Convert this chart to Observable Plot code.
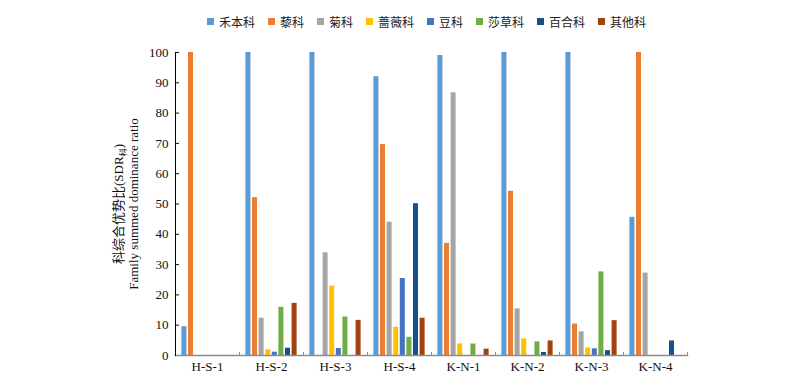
<!DOCTYPE html>
<html>
<head>
<meta charset="utf-8">
<script src="https://cdn.jsdelivr.net/npm/d3@7"></script>
<script src="https://cdn.jsdelivr.net/npm/@observablehq/plot@0.6"></script>
<style>
  body { margin: 0; background: #fff; }
  #legend { height: 34px; box-sizing: border-box; padding-top: 8px; padding-left: 207px; display: flex; align-items: center;
    font-family: "Noto Sans CJK SC", sans-serif; font-size: 12px; color: #222; }
  .item { display: flex; align-items: center; margin-right: 13px; }
  .sw { width: 7px; height: 7px; margin-right: 5px; }
</style>
</head>
<body>
<div id="legend"></div>
<div id="chart"></div>
<script>
const sites = ["H-S-1", "H-S-2", "H-S-3", "H-S-4", "K-N-1", "K-N-2", "K-N-3", "K-N-4"];
const families = ["禾本科", "藜科", "菊科", "蔷薇科", "豆科", "莎草科", "百合科", "其他科"];
const colors = ["#5B9BD5", "#ED7D31", "#A5A5A5", "#FFC000", "#4472C4", "#70AD47", "#17508C", "#A3410F"];
const yTicks = [0, 10, 20, 30, 40, 50, 60, 70, 80, 90, 100];

const poaceae     = [9.5, 100, 100, 92, 99, 100, 100, 45.6];
const chenopod    = [100, 52.1, 0, 69.6, 37, 54.2, 10.4, 100];
const asteraceae  = [0, 12.3, 33.9, 44, 86.7, 15.4, 7.8, 27.2];
const rosaceae    = [0, 1.9, 22.9, 9.3, 3.8, 5.5, 2.5, 0];
const fabaceae    = [0, 1.1, 2.3, 25.4, 0, 0, 2.2, 0];
const cyperaceae  = [0, 15.9, 12.7, 6.0, 3.8, 4.5, 27.6, 0];
const liliaceae   = [0, 2.4, 0, 50.1, 0, 1.0, 1.6, 4.8];
const others      = [0, 17.2, 11.6, 12.3, 2.1, 4.8, 11.5, 0];
const series = [poaceae, chenopod, asteraceae, rosaceae, fabaceae, cyperaceae, liliaceae, others];

const yLabel1 = "科综合优势比(SDR科)";
const yLabel2 = "Family summed dominance ratio";

const data = sites.flatMap((s, i) => families.map((f, j) => ({site: s, family: f, value: series[j][i]})))
  .filter(d => d.value > 0);

// legend
const legend = d3.select("#legend");
families.forEach((f, j) => {
  const it = legend.append("div").attr("class", "item");
  it.append("div").attr("class", "sw").style("background", colors[j]);
  it.append("span").text(f);
});

const chart = Plot.plot({
  width: 800,
  height: 352,
  marginTop: 18,
  marginBottom: 31,
  marginLeft: 175,
  marginRight: 113,
  style: {fontFamily: "'Liberation Serif', 'Noto Sans CJK SC', serif", fontSize: "13px", color: "#111"},
  fx: {domain: sites, paddingInner: 0, paddingOuter: 0, round: false, label: null},
  x: {domain: families, axis: null, paddingInner: 0.24, paddingOuter: 0.97, round: false},
  y: {domain: [0, 100]},
  color: {domain: families, range: colors},
  marks: [
    Plot.axisY(yTicks, {tickSize: -4, tickPadding: 11, label: null, fontSize: 13}),
    Plot.axisFx({anchor: "bottom", tickSize: 0, tickPadding: 6, label: null, fontSize: 13}),
    Plot.barY(data, {fx: "site", x: "family", y: "value", fill: "family"}),
    Plot.frame({anchor: "right", insetTop: 300, stroke: "#8c8c8c"}),
    Plot.frame({anchor: "bottom", facet: "super", stroke: "#8c8c8c", strokeWidth: 1.5}),
    Plot.frame({anchor: "left", facet: "super", stroke: "#000"}),
    Plot.text([yLabel1], {frameAnchor: "left", rotate: -90, dx: -57, textAnchor: "middle", lineAnchor: "middle", facet: "super", fontSize: 13}),
    Plot.text([yLabel2], {frameAnchor: "left", rotate: -90, dx: -42, textAnchor: "middle", lineAnchor: "middle", facet: "super", fontSize: 13})
  ]
});
document.getElementById("chart").appendChild(chart);

// subscript for 科 in SDR
d3.select(chart).selectAll("text").each(function() {
  if (this.textContent === yLabel1) {
    const t = d3.select(this);
    t.text("");
    t.append("tspan").text("科综合优势比(SDR");
    t.append("tspan").attr("font-size", 8).attr("dy", 3).text("科");
    t.append("tspan").attr("dy", -3).text(")");
  }
});
</script>
</body>
</html>
